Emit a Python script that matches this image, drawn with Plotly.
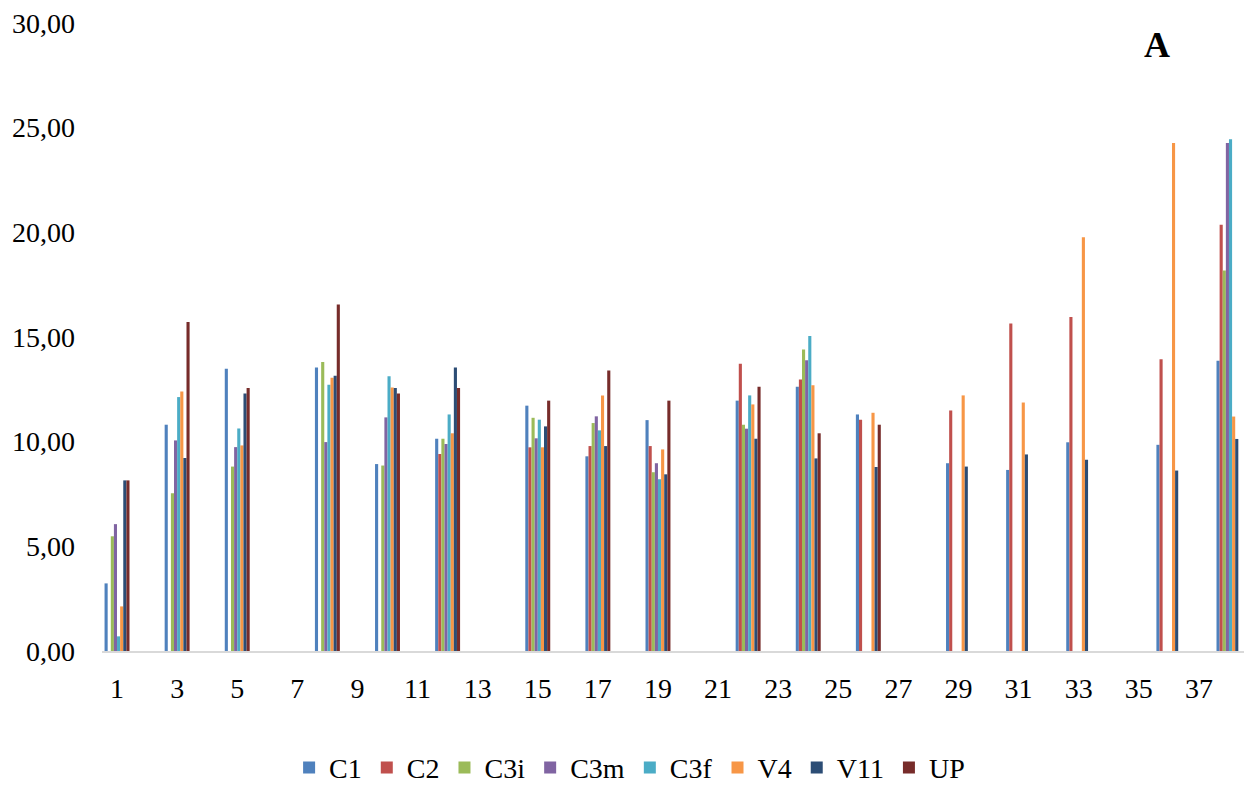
import plotly.graph_objects as go

# Category axis 1..38, values only at these positions
categories = [str(i) for i in range(1, 39)]
positions = ["1", "3", "5", "8", "10", "12", "15", "17", "19", "22", "24", "26", "29", "31", "33", "36", "38"]
tick_labels = [str(i) for i in range(1, 38, 2)]

C1 = [3.23, 10.81, 13.48, 13.54, 8.93, 10.14, 11.72, 9.30, 11.03, 11.96, 12.62, 11.30, 8.97, 8.65, 9.97, 9.85, 13.86]
C2 = [None, None, None, None, None, 9.41, 9.73, 9.79, 9.79, 13.72, 12.97, 11.05, 11.49, 15.64, 15.96, 13.94, 20.36]
C3i = [5.48, 7.53, 8.81, 13.80, 8.86, 10.14, 11.14, 10.89, 8.54, 10.81, 14.40, None, None, None, None, None, 18.18]
C3m = [6.06, 10.06, 9.74, 9.98, 11.16, 9.89, 10.16, 11.21, 8.97, 10.62, 13.89, None, None, None, None, None, 24.27]
C3f = [0.70, 12.13, 10.63, 12.72, 13.13, 11.30, 11.05, 10.54, 8.20, 12.21, 15.05, None, None, None, None, None, 24.45]
V4 = [2.13, 12.40, 9.82, 13.05, 12.59, 10.40, 9.73, 12.21, 9.63, 11.78, 12.70, 11.38, 12.21, 11.87, 19.76, 24.27, 11.20]
V11 = [8.15, 9.22, 12.30, 13.15, 12.56, 13.54, 10.73, 9.79, 8.44, 10.14, 9.20, 8.79, 8.81, 9.39, 9.14, 8.62, 10.13]
UP = [8.15, 15.72, 12.56, 16.55, 12.30, 12.56, 11.96, 13.40, 11.96, 12.62, 10.40, 10.81, None, None, None, None, None]

series = [
    ("C1", C1, "#4F81BD"),
    ("C2", C2, "#C0504D"),
    ("C3i", C3i, "#9BBB59"),
    ("C3m", C3m, "#8064A2"),
    ("C3f", C3f, "#4BACC6"),
    ("V4", V4, "#F79646"),
    ("V11", V11, "#2C4D75"),
    ("UP", UP, "#772C2A"),
]

FONT = "Liberation Serif, Times New Roman, serif"

fig = go.Figure()
for name, vals, color in series:
    fig.add_trace(go.Bar(
        x=positions, y=vals, name=name,
        marker=dict(color=color, line=dict(width=0)),
    ))

fig.update_layout(
    width=1245, height=785,
    margin=dict(l=102, r=1, t=23, b=134, autoexpand=False),
    paper_bgcolor="white", plot_bgcolor="white",
    barmode="group", bargap=0.17, bargroupgap=0,
    separators=",.",
    font=dict(family=FONT, size=28, color="black"),
    showlegend=True,
    legend=dict(orientation="h", x=0.462, xanchor="center", y=-0.186, yanchor="middle",
                font=dict(family=FONT, size=28, color="black"), itemsizing="constant"),
    xaxis=dict(type="category", categoryorder="array", categoryarray=categories,
               range=[-0.5, 37.5], tickmode="array", tickvals=tick_labels, ticktext=tick_labels,
               showline=True, linecolor="#D9D9D9", linewidth=1.5, ticks="",
               showgrid=False, ticklabelstandoff=12, automargin=False,
               tickfont=dict(family=FONT, size=28, color="black")),
    yaxis=dict(range=[0, 30], tickmode="array", tickvals=[0, 5, 10, 15, 20, 25, 30],
               tickformat=".2f", showgrid=False, zeroline=False, showline=False, ticks="",
               ticklabelstandoff=26, automargin=False,
               tickfont=dict(family=FONT, size=28, color="black")),
    annotations=[dict(text="<b>A</b>", x=0.924, y=0.965, xref="paper", yref="paper",
                      xanchor="center", yanchor="middle", showarrow=False,
                      font=dict(family=FONT, size=36, color="black"))],
)

fig.write_html(
    "out.html",
    config={"displayModeBar": False},
    post_script="document.body.style.margin='0';document.body.style.overflow='hidden';",
)
